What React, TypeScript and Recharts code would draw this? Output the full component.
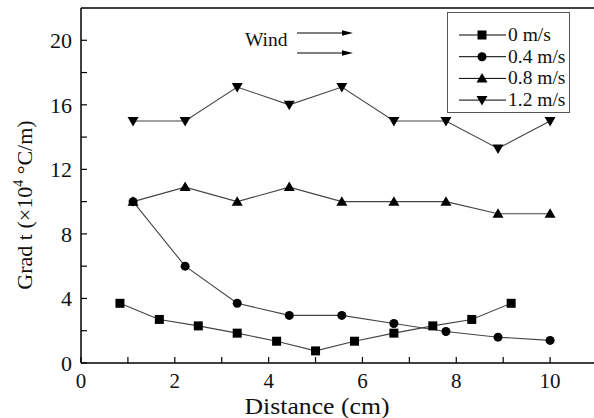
import { LineChart, Line, XAxis, YAxis, Label } from "recharts";

// 0 m/s measured on a finer grid than the other three speeds
const xSquare = [0.83, 1.67, 2.5, 3.33, 4.17, 5, 5.83, 6.67, 7.5, 8.33, 9.17];
const ySquare = [3.7, 2.7, 2.3, 1.85, 1.35, 0.75, 1.35, 1.85, 2.3, 2.7, 3.7];

const xGrid = [1.11, 2.22, 3.33, 4.44, 5.56, 6.67, 7.78, 8.89, 10];
const yCircle = [10, 6, 3.7, 2.95, 2.95, 2.45, 1.95, 1.6, 1.4];
const yUp = [10, 10.9, 10, 10.9, 10, 10, 10, 9.25, 9.25];
const yDown = [15, 15, 17.1, 16, 17.1, 15, 15, 13.3, 15];

const seriesNames = ["0 m/s", "0.4 m/s", "0.8 m/s", "1.2 m/s"];
const xTicks = [0, 1, 2, 3, 4, 5, 6, 7, 8, 9, 10, 11];
const yTicks = [0, 2, 4, 6, 8, 10, 12, 14, 16, 18, 20];

type Shape = "square" | "circle" | "up" | "down";
const shapes: Shape[] = ["square", "circle", "up", "down"];

const zip = (xs: number[], ys: number[]) => xs.map((x, i) => ({ x, y: ys[i] }));
const seriesData = [zip(xSquare, ySquare), zip(xGrid, yCircle), zip(xGrid, yUp), zip(xGrid, yDown)];

const FONT = "Liberation Serif, Times New Roman, DejaVu Serif, serif";
const LINE = "#444";
const txt = { fontFamily: FONT };

function Marker({ cx, cy, shape }: { cx: number; cy: number; shape: Shape }) {
  if (cx == null || cy == null) return null;
  switch (shape) {
    case "square":
      return <rect x={cx - 4.5} y={cy - 4.5} width={9} height={9} fill="#000" />;
    case "circle":
      return <circle cx={cx} cy={cy} r={4.5} fill="#000" />;
    case "up":
      return <path d={`M${cx},${cy - 5.5}L${cx + 5.5},${cy + 4}L${cx - 5.5},${cy + 4}Z`} fill="#000" />;
    default:
      return <path d={`M${cx - 5.5},${cy - 4}L${cx + 5.5},${cy - 4}L${cx},${cy + 5.5}Z`} fill="#000" />;
  }
}

function LegendBox() {
  return (
    <svg width={124} height={102} style={{ position: "absolute", left: 447, top: 12 }}>
      <rect x={0.5} y={0.5} width={122} height={100} fill="#fff" stroke="#555" />
      {seriesNames.map((name, i) => {
        const y = 23 + i * 21.7;
        return (
          <g key={name}>
            <line x1={12} x2={59} y1={y} y2={y} stroke="#000" strokeWidth={1} />
            <Marker cx={35} cy={y} shape={shapes[i]} />
            <text x={61} y={y + 6} fontSize={19.5} style={txt} fill="#111">{name}</text>
          </g>
        );
      })}
    </svg>
  );
}

function WindNote() {
  return (
    <svg width={130} height={40} style={{ position: "absolute", left: 240, top: 24 }}>
      <text x={5} y={22} fontSize={19.5} style={txt} fill="#111">Wind</text>
      {[9, 29].map((y) => (
        <g key={y}>
          <line x1={57} x2={104} y1={y} y2={y} stroke="#000" strokeWidth={1} />
          <path d={`M${102},${y - 2.8}L${113},${y}L${102},${y + 2.8}Z`} fill="#000" />
        </g>
      ))}
    </svg>
  );
}

export default function App() {
  return (
    <div style={{ position: "absolute", left: 0, top: 0, width: 594, height: 418, overflow: "hidden", background: "#fff", fontFamily: FONT }}>
      <LineChart width={620} height={418} margin={{ top: 7, right: 22, bottom: 0, left: 0 }} style={txt}>
        <XAxis
          dataKey="x" type="number" domain={[0, 11]} ticks={xTicks} interval={0} allowDuplicatedCategory={false}
          height={55} tickSize={-6} tickMargin={16}
          axisLine={{ stroke: "#000", strokeWidth: 1.5 }} tickLine={{ stroke: "#000", strokeWidth: 1.2 }}
          tick={{ fontSize: 21, fill: "#111", style: txt }}
          tickFormatter={(v: number) => (v % 2 === 0 && v <= 10 ? String(v) : "")}
        >
          <Label
            content={() => (
              <text x={317} y={414} textAnchor="middle" fontSize={23} textLength={145} lengthAdjust="spacingAndGlyphs" style={txt} fill="#111">
                Distance (cm)
              </text>
            )}
          />
        </XAxis>
        <XAxis
          xAxisId="top" orientation="top" dataKey="x" type="number" domain={[0, 11]} ticks={xTicks} interval={0}
          height={1} tickSize={-6} tick={false}
          axisLine={{ stroke: "#000", strokeWidth: 1.5 }} tickLine={{ stroke: "#000", strokeWidth: 1.2 }}
        />
        <YAxis
          type="number" domain={[0, 22]} ticks={yTicks} interval={0} width={81} tickSize={-6} tickMargin={15}
          axisLine={{ stroke: "#000", strokeWidth: 1.5 }} tickLine={{ stroke: "#000", strokeWidth: 1.2 }}
          tick={{ fontSize: 22, fill: "#111", style: txt }}
          tickFormatter={(v: number) => (v % 4 === 0 ? String(v) : "")}
        >
          <Label
            content={() => (
              <text transform="translate(32,205) rotate(-90)" textAnchor="middle" fontSize={22} style={txt} fill="#111">
                Grad t (×10<tspan dy={-9} fontSize={14}>4</tspan>
                <tspan dy={9}> °C/m)</tspan>
              </text>
            )}
          />
        </YAxis>
        <YAxis
          yAxisId="right" orientation="right" type="number" domain={[0, 22]} ticks={yTicks} width={1}
          tickSize={-6} tick={false} axisLine={{ stroke: "#000", strokeWidth: 1.5 }}
        />
        {seriesData.map((data, i) => (
          <Line
            key={seriesNames[i]}
            data={data}
            dataKey="y"
            name={seriesNames[i]}
            stroke={LINE}
            strokeWidth={1.1}
            isAnimationActive={false}
            dot={(p: any) => <Marker key={`${i}-${p.index}`} cx={p.cx} cy={p.cy} shape={shapes[i]} />}
            activeDot={false}
          />
        ))}
      </LineChart>
      <LegendBox />
      <WindNote />
    </div>
  );
}
